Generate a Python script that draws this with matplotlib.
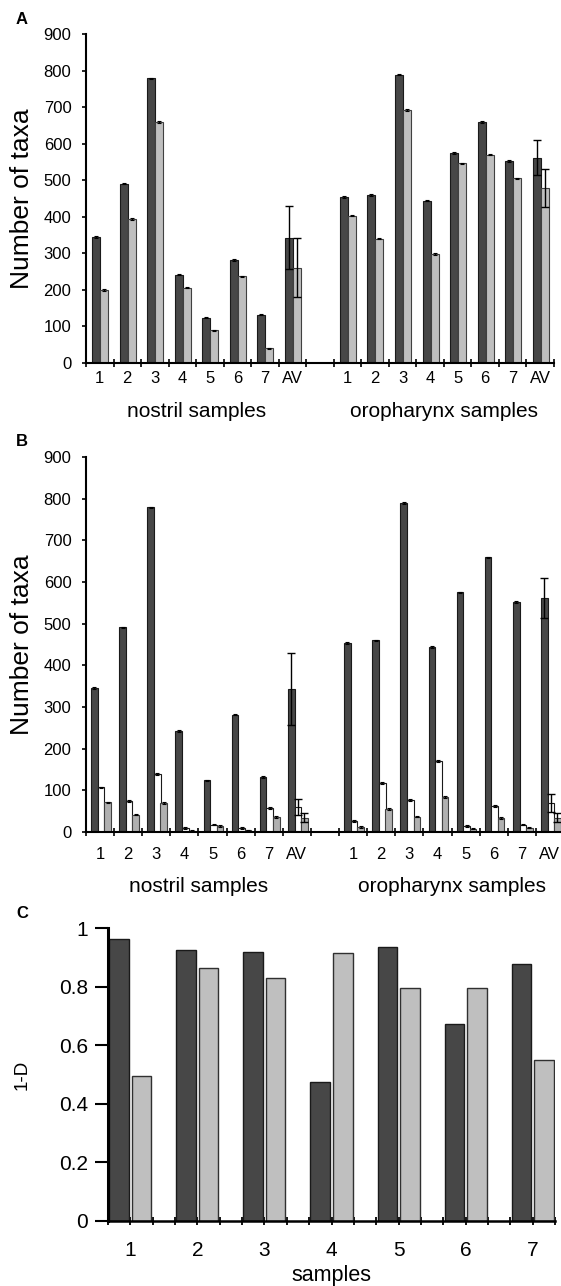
import numpy as np
import matplotlib
matplotlib.use("Agg")
import matplotlib.pyplot as plt

plt.rcParams['font.family'] = ['Liberation Sans', 'DejaVu Sans']

W, H = 561, 1286

site_labels = ["1", "2", "3", "4", "5", "6", "7", "AV"]
group_labels = ["nostril samples", "oropharynx samples"]

# panel A / B: total taxa (dark bars), same in both panels
nos_total = [345, 491, 779, 242, 124, 282, 132, 343]
nos_total_err = [2, 2, 2, 2, 2, 2, 2, 86]
oro_total = [454, 460, 789, 444, 575, 659, 552, 562]
oro_total_err = [2, 2, 2, 2, 2, 2, 2, 48]

# panel A: light grey bars
nos_light = [200, 394, 659, 206, 89, 237, 40, 261]
nos_light_err = [2, 2, 2, 2, 2, 2, 2, 80]
oro_light = [403, 340, 692, 298, 546, 570, 505, 479]
oro_light_err = [2, 2, 2, 2, 2, 2, 2, 52]

# panel B: white and grey bars
nos_white = [107, 75, 140, 10, 18, 9, 57, 60]
nos_white_err = [2, 2, 2, 2, 2, 2, 2, 20]
nos_grey = [71, 42, 69, 3, 14, 4, 36, 34]
nos_grey_err = [2, 2, 2, 1, 2, 1, 2, 11]
oro_white = [26, 117, 77, 171, 14, 63, 18, 69]
oro_white_err = [2, 2, 2, 2, 2, 2, 2, 22]
oro_grey = [12, 55, 37, 84, 8, 33, 10, 34]
oro_grey_err = [2, 2, 2, 2, 1, 2, 1, 11]

# panel C: diversity 1-D
c_samples = ["1", "2", "3", "4", "5", "6", "7"]
c_dark = [0.964, 0.925, 0.917, 0.476, 0.934, 0.673, 0.878]
c_light = [0.494, 0.864, 0.830, 0.915, 0.794, 0.795, 0.548]

DARK = '#474747'
LIGHT = '#bfbfbf'

# category slots: nostril 0-7, empty 8, oropharynx 9-16
slots = np.array(list(range(8)) + list(range(9, 17)))


def px_axes(fig, left, top, right, bottom):
    return fig.add_axes([left / W, (H - bottom) / H, (right - left) / W, (bottom - top) / H])


def draw_bars(ax, x, vals, errs, width, color, edge):
    vals = np.asarray(vals, float)
    errs = np.asarray(errs, float)
    ax.bar(x, vals, width, color=color, edgecolor=edge, linewidth=0.8, zorder=2)
    big = errs > 5
    ax.errorbar(x[~big], vals[~big], yerr=errs[~big], fmt='none', ecolor='black',
                elinewidth=0.7, capsize=1.3, capthick=0.8, zorder=3)
    ax.errorbar(x[big], vals[big], yerr=errs[big], fmt='none', ecolor='black',
                elinewidth=1.0, capsize=2.6, capthick=1.0, zorder=3)


def style_taxa_axis(ax, xlab_pad, group_off):
    for s in ['top', 'right']:
        ax.spines[s].set_visible(False)
    for s in ['left', 'bottom']:
        ax.spines[s].set_linewidth(1.5)
    ax.set_xlim(0, 17)
    ax.set_ylim(0, 900)
    ax.set_yticks(np.arange(0, 901, 100))
    ax.tick_params(axis='y', direction='out', length=3, width=1.2, pad=7.5, labelsize=12)
    ax.set_xticks(np.arange(0, 18))
    ax.set_xticklabels([])
    ax.tick_params(axis='x', which='major', direction='inout', length=6, width=1.2)
    ax.set_xticks(slots + 0.5, minor=True)
    ax.set_xticklabels(site_labels + site_labels, minor=True)
    ax.tick_params(axis='x', which='minor', length=0, pad=xlab_pad, labelsize=12)
    ax.set_ylabel("Number of taxa", fontsize=19, va='center')
    for xc, lab in zip([4.0, 13.0], group_labels):
        ax.annotate(lab, xy=(xc, 0), xycoords=('data', 'axes fraction'),
                    xytext=(0, -group_off), textcoords='offset points',
                    ha='center', va='center', fontsize=15)


fig = plt.figure(figsize=(W / 100, H / 100), dpi=100)

# ---- panel A
axA = px_axes(fig, 86, 34, 554, 363)
nos_x = slots[:8]
oro_x = slots[8:]
x_all = np.concatenate([nos_x, oro_x])
draw_bars(axA, x_all + 0.37, nos_total + oro_total, nos_total_err + oro_total_err, 0.29, DARK, '#1a1a1a')
draw_bars(axA, x_all + 0.66, nos_light + oro_light, nos_light_err + oro_light_err, 0.29, LIGHT, '#404040')
style_taxa_axis(axA, 5.5, 35)
axA.yaxis.set_label_coords(-(86 - 22) / 468, 0.5)

# ---- panel B
axB = px_axes(fig, 86, 457, 564, 832)
draw_bars(axB, x_all + 0.30, nos_total + oro_total, nos_total_err + oro_total_err, 0.235, DARK, '#1a1a1a')
draw_bars(axB, x_all + 0.535, nos_white + oro_white, nos_white_err + oro_white_err, 0.235, 'white', '#1a1a1a')
draw_bars(axB, x_all + 0.765, nos_grey + oro_grey, nos_grey_err + oro_grey_err, 0.235, '#b0b0b0', '#404040')
style_taxa_axis(axB, 10.5, 39)
axB.yaxis.set_label_coords(-(86 - 22) / 478, 0.5)

# ---- panel C
axC = px_axes(fig, 108, 928, 555, 1221)
cx = np.arange(len(c_samples)) * 3
axC.bar(cx + 0.5, c_dark, 0.88, color=DARK, edgecolor='#1a1a1a', linewidth=1.0, zorder=2)
axC.bar(cx + 1.5, c_light, 0.88, color=LIGHT, edgecolor='#303030', linewidth=1.0, zorder=2)
for s in ['top', 'right']:
    axC.spines[s].set_visible(False)
axC.spines['left'].set_linewidth(2.2)
axC.spines['bottom'].set_linewidth(1.8)
axC.set_xlim(0, 20)
axC.set_ylim(0, 1)
axC.set_yticks([0, 0.2, 0.4, 0.6, 0.8, 1])
axC.set_yticklabels(["0", "0.2", "0.4", "0.6", "0.8", "1"])
axC.tick_params(axis='y', direction='out', length=9.5, width=1.5, pad=5, labelsize=15)
axC.xaxis.remove_overlapping_locs = False
axC.set_xticks(np.arange(0, 21))
axC.set_xticklabels([])
axC.tick_params(axis='x', which='major', direction='inout', length=6, width=1.3)
axC.set_xticks(cx + 1, minor=True)
axC.set_xticklabels(c_samples, minor=True)
axC.tick_params(axis='x', which='minor', length=0, pad=14.5, labelsize=15)
axC.set_ylabel("1-D", fontsize=13.5, va='center')
axC.yaxis.set_label_coords(-(108 - 22) / 447, 0.5)
axC.annotate("samples", xy=(10, 0), xycoords=('data', 'axes fraction'),
             xytext=(0, -39), textcoords='offset points',
             ha='center', va='center', fontsize=15.5)

# panel letters
for lab, (px, py) in zip("ABC", [(22, 20), (22, 442), (22, 913)]):
    fig.text(px / W, 1 - py / H, lab, ha='center', va='center', fontsize=12, fontweight='bold')

fig.savefig("out.png", dpi=100)
